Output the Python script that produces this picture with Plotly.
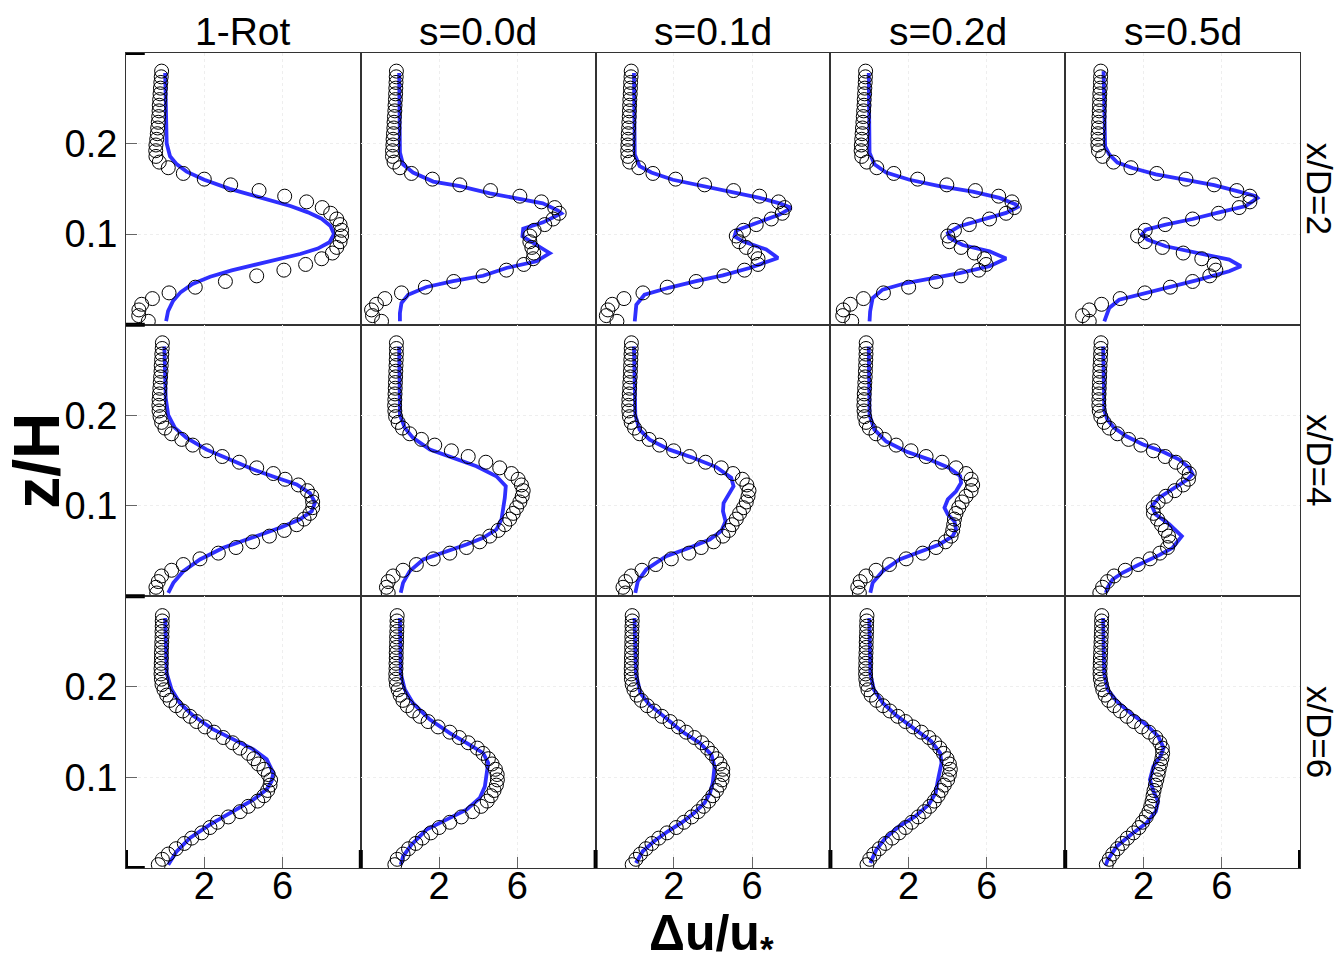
import plotly.graph_objects as go
from plotly.subplots import make_subplots

# ---------------- data ----------------
COL_TITLES = ["1-Rot", "s=0.0d", "s=0.1d", "s=0.2d", "s=0.5d"]
ROW_TITLES = ["x/D=2", "x/D=4", "x/D=6"]
X_TICKS = [2, 6]
Y_TICKS = [0.1, 0.2]

# measurement heights z/H
Z_ROW12 = [0.0037, 0.0100, 0.0163, 0.0225, 0.0288, 0.0351, 0.0414, 0.0477, 0.0539, 0.0602,
           0.0665, 0.0728, 0.0791, 0.0853, 0.0916, 0.0979, 0.1042, 0.1105, 0.1167, 0.1230,
           0.1293, 0.1356, 0.1419, 0.1481, 0.1544, 0.1607, 0.1670, 0.1733, 0.1795, 0.1858,
           0.1921, 0.1984, 0.2047, 0.2109, 0.2172, 0.2235, 0.2298, 0.2361, 0.2423, 0.2486,
           0.2549, 0.2612, 0.2675, 0.2737, 0.2800]
Z_ROW3 = [0.0037, 0.0096, 0.0154, 0.0213, 0.0271, 0.0330, 0.0388, 0.0447, 0.0505, 0.0564,
          0.0622, 0.0681, 0.0739, 0.0798, 0.0856, 0.0915, 0.0973, 0.1032, 0.1090, 0.1149,
          0.1207, 0.1266, 0.1324, 0.1383, 0.1441, 0.1500, 0.1558, 0.1617, 0.1675, 0.1734,
          0.1792, 0.1851, 0.1909, 0.1968, 0.2026, 0.2085, 0.2143, 0.2202, 0.2260, 0.2319,
          0.2377, 0.2436, 0.2494, 0.2553, 0.2611, 0.2670, 0.2728, 0.2787]

# experiment (circles) Δu/u*
EXP_R1C1 = [-0.86, -1.35, -1.34, -1.20, -0.65, 0.20, 1.54, 3.08, 4.68, 6.07, 7.18, 8.00, 8.55, 8.77,
            8.94, 9.02, 9.02, 8.94, 8.77, 8.46, 8.03, 7.23, 6.11, 4.80, 3.35, 2.00, 0.93, 0.16, -0.30,
            -0.47, -0.48, -0.47, -0.43, -0.40, -0.38, -0.35, -0.33, -0.31, -0.30, -0.28, -0.26,
            -0.24, -0.22, -0.20, -0.18]
EXP_R1C2 = [-0.94, -1.40, -1.45, -1.20, -0.77, 0.08, 1.30, 2.75, 4.25, 5.44, 6.33, 6.81, 6.84, 6.74,
            6.64, 6.64, 6.86, 7.40, 7.83, 8.14, 7.91, 7.23, 6.13, 4.63, 3.06, 1.66, 0.59, 0.00, -0.30,
            -0.38, -0.38, -0.36, -0.35, -0.33, -0.31, -0.30, -0.28, -0.26, -0.25, -0.23, -0.22,
            -0.21, -0.20, -0.19, -0.18]
EXP_R1C3 = [-0.91, -1.45, -1.37, -1.15, -0.55, 0.42, 1.66, 3.14, 4.56, 5.61, 6.30, 6.30, 6.13, 5.70,
            5.33, 5.19, 5.56, 6.21, 6.98, 7.54, 7.66, 7.35, 6.38, 5.05, 3.57, 2.09, 0.93, 0.21, -0.26,
            -0.35, -0.36, -0.35, -0.34, -0.33, -0.31, -0.30, -0.28, -0.27, -0.26, -0.25, -0.23,
            -0.22, -0.21, -0.19, -0.18]
EXP_R1C4 = [-0.91, -1.37, -1.34, -0.98, -0.31, 0.71, 2.00, 3.40, 4.68, 5.58, 5.96, 5.87, 5.36, 4.68,
            4.08, 4.00, 4.34, 5.10, 6.13, 6.98, 7.40, 7.28, 6.60, 5.41, 3.95, 2.46, 1.24, 0.37, -0.14,
            -0.40, -0.43, -0.42, -0.40, -0.38, -0.36, -0.34, -0.32, -0.30, -0.28, -0.27, -0.25,
            -0.24, -0.22, -0.21, -0.20]
EXP_R1C5 = [-0.77, -1.11, -0.77, -0.14, 0.81, 2.07, 3.37, 4.51, 5.39, 5.70, 5.61, 4.98, 4.03, 2.97,
            2.09, 1.70, 2.09, 3.11, 4.51, 5.84, 6.89, 7.44, 7.44, 6.77, 5.61, 4.17, 2.68, 1.36, 0.47,
            -0.09, -0.30, -0.33, -0.33, -0.32, -0.30, -0.29, -0.27, -0.26, -0.25, -0.24, -0.23,
            -0.21, -0.20, -0.19, -0.18]
EXP_R2C1 = [-0.43, -0.47, -0.35, -0.18, 0.33, 0.93, 1.78, 2.72, 3.62, 4.47, 5.33, 6.09, 6.72, 7.10,
            7.40, 7.54, 7.54, 7.49, 7.27, 6.81, 6.13, 5.53, 4.68, 3.79, 2.92, 2.12, 1.41, 0.85, 0.33,
            -0.01, -0.18, -0.26, -0.31, -0.32, -0.31, -0.29, -0.27, -0.25, -0.23, -0.21, -0.20,
            -0.18, -0.17, -0.15, -0.14]
EXP_R2C2 = [-0.60, -0.69, -0.60, -0.35, 0.16, 0.84, 1.70, 2.55, 3.40, 4.08, 4.59, 5.02, 5.36, 5.61,
            5.79, 5.96, 6.13, 6.25, 6.30, 6.21, 6.04, 5.70, 5.10, 4.39, 3.49, 2.63, 1.78, 1.10, 0.50,
            0.13, -0.09, -0.22, -0.26, -0.27, -0.26, -0.25, -0.24, -0.23, -0.22, -0.21, -0.20,
            -0.19, -0.18, -0.18, -0.18]
EXP_R2C3 = [-0.47, -0.60, -0.47, -0.18, 0.37, 1.07, 1.87, 2.77, 3.40, 4.03, 4.51, 4.81, 4.98, 5.19,
            5.36, 5.56, 5.70, 5.79, 5.84, 5.73, 5.50, 5.02, 4.42, 3.62, 2.80, 1.99, 1.27, 0.73, 0.25,
            -0.01, -0.18, -0.27, -0.30, -0.31, -0.30, -0.28, -0.26, -0.25, -0.23, -0.22, -0.21,
            -0.20, -0.19, -0.18, -0.17]
EXP_R2C4 = [-0.52, -0.60, -0.48, -0.18, 0.33, 1.02, 1.87, 2.72, 3.40, 3.88, 4.17, 4.25, 4.30, 4.34,
            4.42, 4.56, 4.73, 4.93, 5.19, 5.27, 5.19, 4.93, 4.42, 3.71, 2.89, 2.12, 1.36, 0.76, 0.33,
            -0.01, -0.18, -0.25, -0.28, -0.29, -0.28, -0.27, -0.25, -0.24, -0.22, -0.21, -0.20,
            -0.19, -0.18, -0.18, -0.17]
EXP_R2C5 = [-0.23, -0.09, 0.16, 0.50, 1.07, 1.73, 2.34, 2.84, 3.23, 3.37, 3.28, 3.11, 2.92, 2.72,
            2.51, 2.50, 2.75, 3.14, 3.60, 4.03, 4.30, 4.34, 4.08, 3.66, 3.11, 2.51, 1.87, 1.24, 0.67,
            0.25, -0.01, -0.18, -0.26, -0.28, -0.28, -0.27, -0.26, -0.25, -0.24, -0.23, -0.22,
            -0.20, -0.19, -0.18, -0.17]
EXP_R3C1 = [-0.35, -0.14, 0.16, 0.56, 0.98, 1.36, 1.87, 2.29, 2.67, 3.23, 3.83, 4.25, 4.73, 5.05,
            5.24, 5.36, 5.39, 5.27, 5.05, 4.76, 4.54, 4.25, 3.83, 3.45, 2.97, 2.50, 2.04, 1.61, 1.27,
            0.90, 0.56, 0.25, 0.08, -0.06, -0.16, -0.19, -0.21, -0.21, -0.20, -0.19, -0.19, -0.18,
            -0.17, -0.16, -0.16, -0.15, -0.15, -0.14]
EXP_R3C2 = [-0.26, -0.14, 0.16, 0.44, 0.81, 1.15, 1.58, 2.00, 2.55, 3.14, 3.71, 4.15, 4.46, 4.66,
            4.81, 4.93, 4.98, 4.97, 4.88, 4.71, 4.52, 4.25, 3.95, 3.49, 3.03, 2.55, 1.95, 1.44, 1.02,
            0.67, 0.37, 0.15, 0.01, -0.09, -0.18, -0.21, -0.21, -0.20, -0.20, -0.19, -0.19, -0.18,
            -0.17, -0.17, -0.16, -0.15, -0.15, -0.14]
EXP_R3C3 = [-0.13, 0.06, 0.29, 0.57, 0.88, 1.23, 1.65, 2.12, 2.51, 2.91, 3.24, 3.52, 3.78, 3.99,
            4.18, 4.34, 4.46, 4.50, 4.50, 4.36, 4.18, 3.94, 3.71, 3.43, 3.05, 2.63, 2.23, 1.81, 1.39,
            0.99, 0.64, 0.34, 0.11, -0.04, -0.13, -0.17, -0.18, -0.18, -0.17, -0.17, -0.16, -0.16,
            -0.15, -0.15, -0.14, -0.14, -0.13, -0.13]
EXP_R3C4 = [-0.13, 0.01, 0.22, 0.50, 0.81, 1.16, 1.51, 1.84, 2.16, 2.49, 2.80, 3.08, 3.31, 3.50,
            3.66, 3.82, 3.99, 4.08, 4.13, 4.08, 3.96, 3.78, 3.59, 3.33, 3.03, 2.65, 2.23, 1.84, 1.44,
            1.04, 0.69, 0.36, 0.08, -0.08, -0.15, -0.19, -0.20, -0.20, -0.19, -0.19, -0.18, -0.17,
            -0.17, -0.16, -0.15, -0.15, -0.14, -0.13]
EXP_R3C5 = [0.10, 0.25, 0.43, 0.67, 0.92, 1.18, 1.49, 1.77, 1.95, 2.14, 2.28, 2.37, 2.44, 2.49,
            2.54, 2.61, 2.68, 2.75, 2.80, 2.87, 2.94, 2.98, 2.96, 2.84, 2.63, 2.28, 1.91, 1.51, 1.16,
            0.81, 0.50, 0.22, 0.04, -0.08, -0.15, -0.20, -0.22, -0.22, -0.21, -0.20, -0.19, -0.18,
            -0.17, -0.16, -0.15, -0.14, -0.14, -0.13]

# model (blue line) Δu/u* and z/H
MOD_R1C1_U = [0.00, 0.02, 0.08, 0.25, 0.60, 1.10, 2.00, 3.30, 4.40, 5.40, 6.40, 7.30, 8.00, 8.45,
              8.63, 8.40, 7.80, 6.90, 5.70, 4.50, 3.40, 2.30, 1.40, 0.80, 0.40, 0.15, 0.05]
MOD_R1C1_Z = [0.278, 0.230, 0.200, 0.186, 0.177, 0.169, 0.160, 0.150, 0.143, 0.137, 0.131, 0.124,
              0.117, 0.109, 0.100, 0.091, 0.084, 0.078, 0.072, 0.066, 0.060, 0.053, 0.045, 0.036,
              0.026, 0.015, 0.004]
MOD_R1C2_U = [-0.04, 0.00, 0.16, 0.67, 1.70, 3.06, 4.60, 5.96, 7.30, 8.08, 8.25, 7.32, 6.30, 6.26,
              6.98, 7.66, 6.98, 5.44, 4.25, 2.72, 1.36, 0.42, 0.08, 0.00, 0.00]
MOD_R1C2_Z = [0.278, 0.190, 0.177, 0.168, 0.158, 0.153, 0.145, 0.139, 0.134, 0.126, 0.123, 0.113,
              0.106, 0.0976, 0.0884, 0.079, 0.070, 0.0626, 0.054, 0.048, 0.0416, 0.033, 0.024,
              0.0129, 0.0037]
MOD_R1C3_U = [-0.04, 0.00, 0.25, 0.85, 1.95, 3.49, 5.02, 6.38, 7.40, 8.00, 7.40, 6.21, 5.19, 5.10,
              5.53, 6.72, 7.32, 5.87, 4.50, 3.14, 1.78, 0.50, 0.08, 0.00]
MOD_R1C3_Z = [0.278, 0.188, 0.175, 0.168, 0.160, 0.153, 0.147, 0.140, 0.134, 0.129, 0.1215, 0.112,
              0.104, 0.0976, 0.092, 0.083, 0.0737, 0.0626, 0.0545, 0.048, 0.041, 0.033, 0.022,
              0.0037]
MOD_R1C4_U = [-0.04, 0.00, 0.25, 0.85, 2.04, 3.57, 5.27, 6.64, 7.49, 7.57, 6.98, 5.79, 4.60, 4.00,
              4.08, 4.76, 6.13, 6.98, 6.13, 4.60, 3.23, 1.87, 0.67, 0.16, 0.03, 0.00]
MOD_R1C4_Z = [0.278, 0.190, 0.177, 0.168, 0.160, 0.153, 0.147, 0.140, 0.1326, 0.130, 0.1234, 0.116,
              0.1087, 0.101, 0.0958, 0.088, 0.081, 0.073, 0.0645, 0.057, 0.0516, 0.046, 0.0387,
              0.0295, 0.0147, 0.0037]
MOD_R1C5_U = [-0.04, 0.04, 0.25, 0.67, 1.44, 2.63, 4.17, 5.61, 6.89, 7.74, 7.83, 7.23, 5.87, 4.51,
              3.14, 2.12, 1.92, 2.20, 3.14, 4.85, 6.38, 6.98, 6.38, 4.85, 3.31, 1.95, 0.76, 0.25, 0.00]
MOD_R1C5_Z = [0.280, 0.197, 0.188, 0.179, 0.173, 0.166, 0.160, 0.154, 0.147, 0.142, 0.140, 0.131,
              0.124, 0.1167, 0.1105, 0.105, 0.0994, 0.0939, 0.0866, 0.079, 0.0718, 0.0645, 0.059,
              0.0497, 0.041, 0.034, 0.0276, 0.0184, 0.0037]
MOD_R2C1_U = [-0.04, 0.03, 0.16, 0.50, 1.10, 2.12, 3.31, 4.51, 5.70, 6.72, 7.40, 7.66, 7.49, 6.89,
              5.87, 4.51, 2.97, 1.78, 0.93, 0.42, 0.16]
MOD_R2C1_Z = [0.276, 0.219, 0.200, 0.186, 0.175, 0.162, 0.151, 0.140, 0.131, 0.1235, 0.114, 0.1034,
              0.094, 0.085, 0.0757, 0.0654, 0.0536, 0.0407, 0.0278, 0.0149, 0.0039]
MOD_R2C2_U = [-0.04, 0.00, 0.25, 0.67, 1.53, 2.72, 3.91, 4.93, 5.41, 5.36, 5.27, 5.19, 4.93, 4.25,
              3.40, 2.38, 1.19, 0.50, 0.16, 0.04]
MOD_R2C2_Z = [0.276, 0.200, 0.186, 0.175, 0.162, 0.153, 0.1437, 0.1326, 0.1217, 0.1088, 0.0978,
              0.0849, 0.0738, 0.0646, 0.0573, 0.050, 0.0407, 0.0278, 0.0149, 0.0039]
MOD_R2C3_U = [-0.04, 0.03, 0.25, 0.76, 1.78, 2.97, 4.17, 4.93, 5.05, 4.81, 4.54, 4.51, 4.64, 4.42,
              3.83, 2.80, 1.61, 0.59, 0.16, 0.03]
MOD_R2C3_Z = [0.276, 0.200, 0.184, 0.173, 0.162, 0.153, 0.1427, 0.131, 0.1217, 0.1125, 0.103, 0.094,
              0.083, 0.072, 0.0627, 0.0536, 0.0444, 0.0297, 0.0168, 0.0039]
MOD_R2C4_U = [-0.04, 0.00, 0.25, 0.85, 1.87, 3.06, 4.08, 4.63, 4.68, 4.42, 4.00, 3.83, 4.00, 4.34,
              4.42, 4.25, 3.57, 2.72, 1.53, 0.67, 0.16, 0.04]
MOD_R2C4_Z = [0.276, 0.200, 0.184, 0.171, 0.160, 0.151, 0.1418, 0.1328, 0.1254, 0.116, 0.107, 0.0978,
              0.0904, 0.083, 0.0738, 0.0664, 0.0573, 0.050, 0.0407, 0.0278, 0.0149, 0.0039]
MOD_R2C5_U = [-0.06, 0.00, 0.16, 0.50, 1.10, 1.95, 2.97, 3.83, 4.34, 4.51, 4.25, 3.49, 2.80, 2.43,
              2.63, 3.32, 3.96, 3.49, 2.80, 1.78, 0.93, 0.42, 0.16, 0.08]
MOD_R2C5_Z = [0.276, 0.2047, 0.195, 0.186, 0.177, 0.168, 0.160, 0.151, 0.142, 0.135, 0.129, 0.118,
              0.109, 0.0996, 0.0904, 0.0795, 0.0665, 0.0536, 0.0455, 0.0352, 0.026, 0.0186, 0.0094,
              0.0039]
MOD_R3C1_U = [0.00, 0.08, 0.33, 0.76, 1.44, 2.46, 3.49, 4.51, 5.19, 5.53, 5.44, 5.19, 4.51, 3.49,
              2.29, 1.27, 0.59, 0.16]
MOD_R3C1_Z = [0.276, 0.215, 0.197, 0.182, 0.168, 0.153, 0.142, 0.131, 0.120, 0.105, 0.0958, 0.0866,
              0.0755, 0.0626, 0.0479, 0.0331, 0.0184, 0.0037]
MOD_R3C2_U = [0.00, 0.04, 0.25, 0.67, 1.53, 2.55, 3.57, 4.25, 4.51, 4.42, 4.34, 4.08, 3.40, 2.38,
              1.36, 0.59, 0.16, 0.04]
MOD_R3C2_Z = [0.276, 0.215, 0.197, 0.182, 0.164, 0.149, 0.136, 0.127, 0.116, 0.101, 0.090, 0.0773,
              0.0645, 0.0534, 0.0424, 0.0258, 0.0129, 0.0037]
MOD_R3C3_U = [-0.01, 0.06, 0.29, 0.76, 1.46, 2.40, 3.33, 3.92, 4.08, 3.99, 3.85, 3.57, 3.05, 2.40,
              1.70, 0.99, 0.41, 0.06]
MOD_R3C3_Z = [0.276, 0.215, 0.193, 0.180, 0.168, 0.151, 0.138, 0.125, 0.112, 0.094, 0.083, 0.072,
              0.061, 0.050, 0.0405, 0.0295, 0.0184, 0.0055]
MOD_R3C4_U = [-0.01, 0.04, 0.22, 0.69, 1.39, 2.33, 3.15, 3.61, 3.68, 3.50, 3.38, 3.03, 2.33, 1.51,
              0.81, 0.34, 0.04]
MOD_R3C4_Z = [0.276, 0.215, 0.197, 0.182, 0.168, 0.153, 0.140, 0.127, 0.116, 0.0976, 0.083, 0.070,
              0.057, 0.046, 0.033, 0.020, 0.0055]
MOD_R3C5_U = [-0.06, -0.01, 0.18, 0.64, 1.35, 2.16, 2.75, 3.03, 2.87, 2.51, 2.33, 2.51, 2.75, 2.63,
              2.16, 1.35, 0.64, 0.18, 0.06]
MOD_R3C5_Z = [0.276, 0.215, 0.197, 0.184, 0.171, 0.158, 0.1455, 0.1326, 0.1234, 0.1123, 0.0976,
              0.0847, 0.0737, 0.0626, 0.0497, 0.0368, 0.024, 0.0092, 0.0026]

EXP = [[EXP_R1C1, EXP_R1C2, EXP_R1C3, EXP_R1C4, EXP_R1C5],
       [EXP_R2C1, EXP_R2C2, EXP_R2C3, EXP_R2C4, EXP_R2C5],
       [EXP_R3C1, EXP_R3C2, EXP_R3C3, EXP_R3C4, EXP_R3C5]]
EXP_Z = [Z_ROW12, Z_ROW12, Z_ROW3]
MOD = [[(MOD_R1C1_U, MOD_R1C1_Z), (MOD_R1C2_U, MOD_R1C2_Z), (MOD_R1C3_U, MOD_R1C3_Z),
        (MOD_R1C4_U, MOD_R1C4_Z), (MOD_R1C5_U, MOD_R1C5_Z)],
       [(MOD_R2C1_U, MOD_R2C1_Z), (MOD_R2C2_U, MOD_R2C2_Z), (MOD_R2C3_U, MOD_R2C3_Z),
        (MOD_R2C4_U, MOD_R2C4_Z), (MOD_R2C5_U, MOD_R2C5_Z)],
       [(MOD_R3C1_U, MOD_R3C1_Z), (MOD_R3C2_U, MOD_R3C2_Z), (MOD_R3C3_U, MOD_R3C3_Z),
        (MOD_R3C4_U, MOD_R3C4_Z), (MOD_R3C5_U, MOD_R3C5_Z)]]

X_RANGE = [-2, 10]
Y_RANGE = [0, 0.3]


def ax(idx):
    return "" if idx == 1 else str(idx)


# ---------------- figure ----------------
FONT = "Liberation Sans, Arial, Helvetica, sans-serif"
BLUE = "#2f2fff"
fig = make_subplots(rows=3, cols=5, horizontal_spacing=0, vertical_spacing=0)

for r in range(3):
    for c in range(5):
        mu, mz = MOD[r][c]
        fig.add_trace(go.Scatter(x=mu, y=mz, mode="lines",
                                 line=dict(color=BLUE, width=3.8),
                                 showlegend=False, hoverinfo="skip"),
                      row=r + 1, col=c + 1)
        fig.add_trace(go.Scatter(x=EXP[r][c], y=EXP_Z[r], mode="markers",
                                 marker=dict(symbol="circle", size=14,
                                             color="rgba(0,0,0,0)",
                                             line=dict(color="black", width=1)),
                                 showlegend=False),
                      row=r + 1, col=c + 1)

for r in range(3):
    for c in range(5):
        fig.update_xaxes(range=X_RANGE, tickvals=X_TICKS,
                         ticktext=[str(v) for v in X_TICKS],
                         showticklabels=(r == 2), ticks="inside" if r == 2 else "",
                         ticklen=11, tickcolor="#666", tickwidth=1,
                         ticklabelstandoff=-16,
                         showgrid=True, gridcolor="#eeeeee", griddash="dot", gridwidth=1,
                         zeroline=False, showline=True, mirror=True,
                         linecolor="#333", linewidth=1,
                         tickfont=dict(size=38, color="black", family=FONT),
                         row=r + 1, col=c + 1)
        fig.update_yaxes(range=Y_RANGE, tickvals=Y_TICKS,
                         ticktext=[str(v) for v in Y_TICKS],
                         showticklabels=(c == 0), ticks="inside" if c == 0 else "",
                         ticklen=11, tickcolor="#666", tickwidth=1,
                         showgrid=True, gridcolor="#eeeeee", griddash="dot", gridwidth=1,
                         zeroline=False, showline=True, mirror=True,
                         linecolor="#333", linewidth=1,
                         tickfont=dict(size=38, color="black", family=FONT),
                         row=r + 1, col=c + 1)

shapes = []
# thick limit ticks on left column (y = 0 and 0.3)
for r in range(3):
    idx = r * 5 + 1
    for yv in Y_RANGE:
        shapes.append(dict(type="line", xref=f"x{ax(idx)} domain", yref=f"y{ax(idx)}",
                           x0=0, x1=0.08, y0=yv, y1=yv,
                           line=dict(color="black", width=4)))
# thick limit ticks on bottom row (x = -2 and 10)
for c in range(5):
    idx = 10 + c + 1
    for xv in X_RANGE:
        shapes.append(dict(type="line", xref=f"x{ax(idx)}", yref=f"y{ax(idx)} domain",
                           x0=xv, x1=xv, y0=0, y1=0.066,
                           line=dict(color="black", width=4)))

annotations = []
for c, t in enumerate(COL_TITLES):
    idx = c + 1
    annotations.append(dict(text=t, xref=f"x{ax(idx)} domain", yref="paper", x=0.5, y=1.0258,
                            xanchor="center", yanchor="middle", showarrow=False,
                            font=dict(size=39, color="black", family=FONT)))
row_centers = [0.8332, 0.5002, 0.1666]
for r, t in enumerate(ROW_TITLES):
    annotations.append(dict(text=t, xref="paper", yref="paper", x=1.0165, y=row_centers[r],
                            xanchor="center", yanchor="middle", textangle=90, showarrow=False,
                            font=dict(size=35, color="black", family=FONT)))
annotations.append(dict(text="<b>z/H</b>", xref="paper", yref="paper", x=-0.0765, y=0.5,
                        xanchor="center", yanchor="middle", textangle=-90, showarrow=False,
                        font=dict(size=64, color="black", family=FONT)))
annotations.append(dict(text="<b>Δu/u<sub>*</sub></b>", xref="paper", yref="paper",
                        x=0.499, y=-0.0845, xanchor="center", yanchor="middle",
                        showarrow=False, font=dict(size=50, color="black", family=FONT)))

fig.update_layout(width=1341, height=962,
                  margin=dict(l=126, r=41, t=53, b=94, pad=0),
                  paper_bgcolor="white", plot_bgcolor="white",
                  shapes=shapes, annotations=annotations,
                  font=dict(family=FONT, color="black"))

fig.write_html("out.html")
